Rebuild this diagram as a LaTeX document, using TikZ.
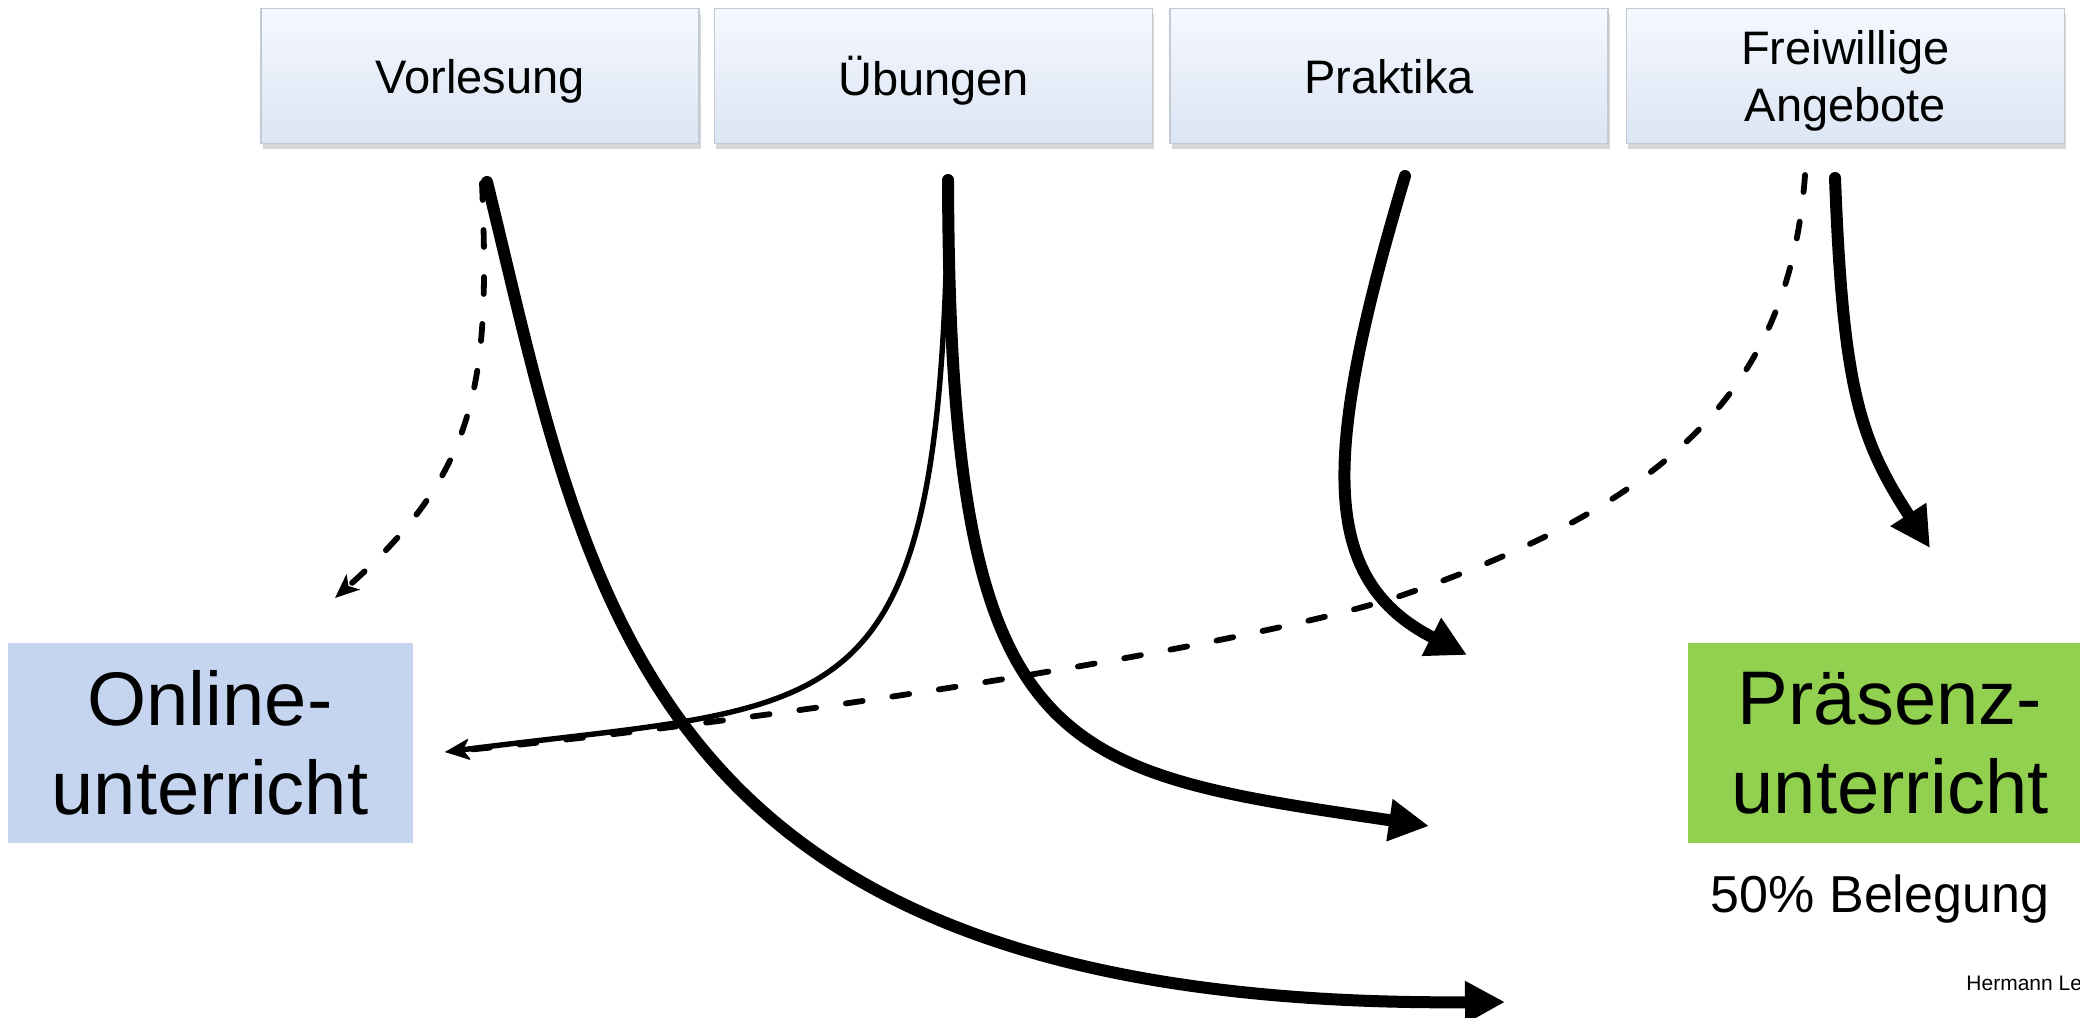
\documentclass[tikz,border=0pt]{standalone}
\usepackage{fontspec}
\setmainfont{Liberation Sans}
\usetikzlibrary{arrows.meta,shadows}

\definecolor{onlinefill}{HTML}{C5D5EF}
\definecolor{praesenzfill}{HTML}{92D050}
\definecolor{tabtop}{HTML}{F6F8FE}
\definecolor{tabbottom}{HTML}{DBE5F4}
\definecolor{tabedge}{HTML}{C3CAD6}

\begin{document}
\begin{tikzpicture}[x=0.5pt,y=-0.5pt,
  tab/.style={draw=tabedge, line width=0.6pt, top color=tabtop, bottom color=tabbottom,
    minimum width=219pt, minimum height=67.5pt, inner sep=0pt, align=center, text depth=0pt,
    font=\fontsize{23.5}{28.5}\selectfont,
    drop shadow={shadow xshift=0.8pt, shadow yshift=-2.5pt, fill=black!45, opacity=0.35}},
  mode/.style={minimum width=202.5pt, minimum height=100pt, inner sep=0pt, align=center,
    font=\fontsize{38}{44.5}\selectfont},
  bold arrow/.style={line width=6pt, line cap=round, -{Triangle[length=20pt,width=20pt]}},
  thin arrow/.style={line width=2.7pt, line cap=round, -{Stealth[length=12pt,width=10pt,inset=3pt]}},
  dash arrow/.style={line width=2.9pt, line cap=round, dash pattern=on 8.5pt off 15pt,
    -{Stealth[length=12pt,width=10pt,inset=3pt]}}]

\useasboundingbox (0,0) rectangle (2080,1017);
\clip (0,0) rectangle (2080,1017);

% course formats along the top
\node[tab] (vl) at (480,76)    {Vorlesung};
\node[tab] (ub) at (933.5,76)  {Übungen};
\node[tab] (pr) at (1389,76)   {Praktika};
\node[tab] (fw) at (1845.5,76) {Freiwillige\\Angebote};

% teaching modes
\node[mode, fill=onlinefill]   (on) at (210,743)  {Online-\\unterricht};
\node[mode, fill=praesenzfill] (pz) at (1890,743) {Präsenz-\\unterricht};
\node[anchor=base, inner sep=0pt, font=\fontsize{26}{31}\selectfont] (bel) at (1880,912) {50\% Belegung};
\node[anchor=base west, inner sep=0pt, font=\fontsize{10.5}{12.6}\selectfont] (author) at (1966,990) {Hermann Le};

% start and end points of the connectors
\coordinate (vlS) at (487,182);
\coordinate (vlD) at (482,183);
\coordinate (ubS) at (948,180);
\coordinate (prS) at (1405,176);
\coordinate (fwD) at (1805,175);
\coordinate (fwS) at (1835,178);
\coordinate (onIn) at (445,752);
\coordinate (endVl) at (1505,1002);
\coordinate (endVlD) at (335,598);
\coordinate (endUb) at (1429,826);
\coordinate (endPr) at (1467,655);
\coordinate (endFw) at (1930,548);

% Vorlesung
\draw[bold arrow] (vlS) .. controls (590,600) and (637,1008) .. (endVl);
\draw[dash arrow] (vlD) .. controls (490,380) and (480,470) .. (endVlD);

% Übungen
\draw[bold arrow] (ubS) .. controls (950,760) and (1050,770) .. (endUb);
\draw[thin arrow] (ubS) .. controls (942,740) and (850,700) .. (onIn);

% Praktika
\draw[bold arrow] (prS) .. controls (1320,460) and (1320,580) .. (endPr);

% Freiwillige Angebote
\draw[dash arrow] (fwD) .. controls (1790,380) and (1680,500) .. (1400,596)
                        .. controls (1250,645) and (800,718) .. (onIn);
\draw[bold arrow] (fwS) .. controls (1843,390) and (1860,440) .. (endFw);

\end{tikzpicture}
\end{document}
